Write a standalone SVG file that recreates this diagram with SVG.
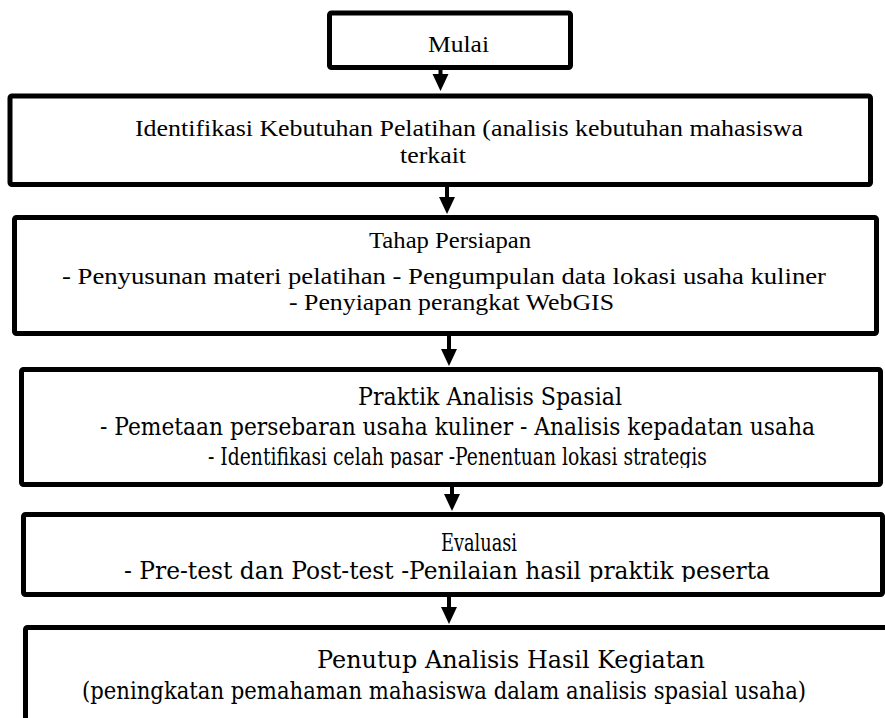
<svg xmlns="http://www.w3.org/2000/svg" width="885" height="718" viewBox="0 0 885 718">
<style>
.box{fill:#fff;stroke:#000;stroke-width:5;stroke-linejoin:round}
.t1{font-family:"Liberation Serif","Times New Roman",serif;font-size:24px;fill:#000}
.t2{font-family:"DejaVu Serif","Liberation Serif",serif;font-size:24px;fill:#000}
.shaft{stroke:#000;stroke-width:4}
</style>
<defs>
<clipPath id="c4"><rect x="0" y="360" width="885" height="108"/></clipPath>
<clipPath id="c5"><rect x="0" y="500" width="885" height="82"/></clipPath>
</defs>
<rect width="885" height="718" fill="#fff"/>
<g id="connectors">
<line class="shaft" x1="440.5" y1="63" x2="440.5" y2="75"/><path d="M432.5,74 L448.5,74 L440.5,91 Z"/>
<line class="shaft" x1="447" y1="187" x2="447" y2="198"/><path d="M439,197 L455,197 L447,214 Z"/>
<line class="shaft" x1="449" y1="336" x2="449" y2="350"/><path d="M441,349 L457,349 L449,366 Z"/>
<line class="shaft" x1="452" y1="487" x2="452" y2="495"/><path d="M444,494 L460,494 L452,511 Z"/>
<line class="shaft" x1="449" y1="597" x2="449" y2="608"/><path d="M441,607 L457,607 L449,624 Z"/>
</g>
<g id="n1">
<rect class="box" x="329.5" y="13" width="241" height="54.5" rx="2"/>
<text class="t1" x="428" y="52" textLength="61" lengthAdjust="spacingAndGlyphs">Mulai</text>
</g>
<g id="n2">
<rect class="box" x="10" y="96" width="860.5" height="88.5" rx="2"/>
<text class="t1" x="135" y="136" textLength="668" lengthAdjust="spacingAndGlyphs">Identifikasi Kebutuhan Pelatihan (analisis kebutuhan mahasiswa</text>
<text class="t1" x="400" y="163" textLength="66" lengthAdjust="spacingAndGlyphs">terkait</text>
</g>
<g id="n3">
<rect class="box" x="14.5" y="217.5" width="862" height="116" rx="2"/>
<text class="t1" x="369" y="248" textLength="162" lengthAdjust="spacingAndGlyphs">Tahap Persiapan</text>
<text class="t1" x="62" y="284" textLength="764" lengthAdjust="spacingAndGlyphs">- Penyusunan materi pelatihan - Pengumpulan data lokasi usaha kuliner</text>
<text class="t1" x="289" y="310" textLength="325" lengthAdjust="spacingAndGlyphs">- Penyiapan perangkat WebGIS</text>
</g>
<g id="n4">
<rect class="box" x="21.5" y="369.5" width="859" height="115" rx="2"/>
<g clip-path="url(#c4)">
<text class="t2" x="358" y="405" textLength="264" lengthAdjust="spacingAndGlyphs">Praktik Analisis Spasial</text>
<text class="t2" x="100" y="435" textLength="715" lengthAdjust="spacingAndGlyphs">- Pemetaan persebaran usaha kuliner - Analisis kepadatan usaha</text>
<text class="t2" x="208" y="465" textLength="499" lengthAdjust="spacingAndGlyphs">- Identifikasi celah pasar -Penentuan lokasi strategis</text>
</g>
</g>
<g id="n5">
<rect class="box" x="23.5" y="514.5" width="859" height="80" rx="2"/>
<g clip-path="url(#c5)">
<text class="t2" x="441" y="551" textLength="76" lengthAdjust="spacingAndGlyphs">Evaluasi</text>
<text class="t2" x="124" y="579" textLength="646" lengthAdjust="spacingAndGlyphs">- Pre-test dan Post-test  -Penilaian hasil praktik peserta</text>
</g>
</g>
<g id="n6">
<rect class="box" x="25.5" y="627.5" width="880" height="120" rx="2"/>
<text class="t2" x="317" y="668" textLength="388" lengthAdjust="spacingAndGlyphs">Penutup Analisis Hasil Kegiatan</text>
<text class="t2" x="82" y="699" textLength="724" lengthAdjust="spacingAndGlyphs">(peningkatan pemahaman mahasiswa dalam analisis spasial usaha)</text>
</g>
</svg>
